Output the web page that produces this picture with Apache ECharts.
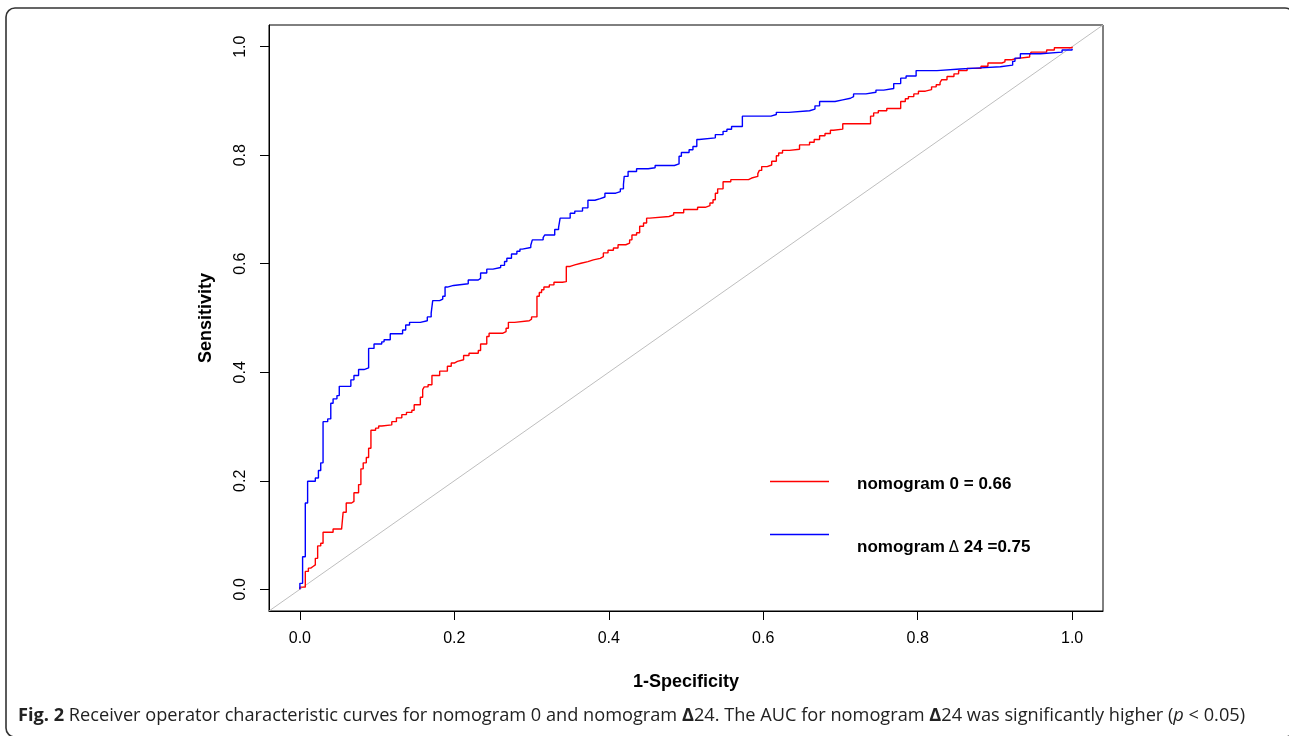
<!DOCTYPE html>
<html>
<head>
<meta charset="utf-8">
<script src="https://cdn.jsdelivr.net/npm/echarts@6/dist/echarts.min.js"></script>
<style>
html,body{margin:0;padding:0;background:#fff;}
#chart{width:1289px;height:736px;}
</style>
</head>
<body>
<div id="chart"></div>
<script>
// Tick values
var xTicks = [0, 0.2, 0.4, 0.6, 0.8, 1.0];
var yTicks = [0, 0.2, 0.4, 0.6, 0.8, 1.0];

// Legend labels
var legendRed = 'nomogram 0 = 0.66';
var legendBlueA = 'nomogram';
var legendBlueDelta = 'Δ';
var legendBlueB = '24 =0.75';

// ROC curve for nomogram 0 (red): [1-specificity, sensitivity] at each jump
var nomogram0 = [
  [0,0],[0,0.004],[0.007,0.033],[0.011,0.039],[0.014,0.042],[0.017,0.045],[0.020,0.057],
  [0.023,0.080],[0.027,0.085],[0.030,0.105],[0.043,0.111],[0.054,0.114],[0.056,0.142],
  [0.060,0.159],[0.067,0.162],[0.070,0.178],[0.076,0.193],[0.079,0.222],[0.082,0.233],
  [0.086,0.243],[0.089,0.260],[0.092,0.293],[0.098,0.297],[0.102,0.301],[0.106,0.303],
  [0.119,0.309],[0.125,0.316],[0.132,0.322],[0.138,0.326],[0.145,0.330],[0.148,0.340],
  [0.156,0.354],[0.159,0.368],[0.161,0.373],[0.166,0.377],[0.171,0.394],[0.181,0.402],
  [0.191,0.411],[0.196,0.417],[0.200,0.420],[0.204,0.423],[0.212,0.431],[0.219,0.435],
  [0.231,0.440],[0.234,0.452],[0.242,0.466],[0.245,0.472],[0.263,0.475],[0.267,0.481],
  [0.270,0.492],[0.278,0.495],[0.297,0.498],[0.300,0.502],[0.307,0.540],[0.310,0.547],
  [0.313,0.552],[0.316,0.557],[0.323,0.561],[0.329,0.566],[0.340,0.567],[0.345,0.595],
  [0.350,0.598],[0.356,0.601],[0.364,0.604],[0.373,0.607],[0.380,0.610],[0.389,0.613],
  [0.393,0.620],[0.399,0.625],[0.406,0.629],[0.412,0.635],[0.422,0.638],[0.427,0.644],
  [0.430,0.653],[0.436,0.657],[0.440,0.669],[0.445,0.675],[0.449,0.684],[0.453,0.687],
  [0.478,0.690],[0.484,0.694],[0.497,0.700],[0.515,0.704],[0.525,0.707],[0.531,0.712],
  [0.535,0.718],[0.538,0.730],[0.541,0.738],[0.548,0.751],[0.558,0.755],[0.581,0.758],
  [0.585,0.761],[0.593,0.766],[0.595,0.772],[0.598,0.779],[0.605,0.782],[0.611,0.789],
  [0.617,0.799],[0.620,0.804],[0.625,0.809],[0.634,0.811],[0.647,0.819],[0.660,0.824],
  [0.666,0.829],[0.673,0.836],[0.680,0.840],[0.687,0.846],[0.691,0.848],[0.703,0.858],
  [0.739,0.872],[0.743,0.878],[0.749,0.882],[0.760,0.886],[0.778,0.899],[0.784,0.904],
  [0.788,0.908],[0.795,0.913],[0.801,0.918],[0.810,0.921],[0.818,0.926],[0.824,0.930],
  [0.829,0.934],[0.831,0.939],[0.838,0.945],[0.847,0.950],[0.853,0.956],[0.864,0.960],
  [0.882,0.964],[0.891,0.970],[0.909,0.972],[0.913,0.976],[0.922,0.978],[0.927,0.981],
  [0.945,0.985],[0.947,0.990],[0.967,0.994],[0.977,0.998],[1.0,1.0]
];

// ROC curve for nomogram Δ24 (blue)
var nomogramD24 = [
  [0,0],[0,0.011],[0.0035,0.060],[0.007,0.159],[0.010,0.199],[0.020,0.205],[0.024,0.219],
  [0.027,0.233],[0.030,0.309],[0.036,0.314],[0.040,0.343],[0.043,0.351],[0.048,0.357],
  [0.051,0.374],[0.066,0.386],[0.070,0.394],[0.076,0.405],[0.083,0.408],[0.089,0.444],
  [0.096,0.452],[0.106,0.456],[0.109,0.460],[0.117,0.471],[0.133,0.478],[0.137,0.487],
  [0.142,0.492],[0.156,0.495],[0.165,0.502],[0.170,0.509],[0.172,0.532],[0.181,0.535],
  [0.185,0.540],[0.188,0.557],[0.191,0.560],[0.199,0.563],[0.218,0.570],[0.231,0.573],
  [0.234,0.583],[0.242,0.590],[0.250,0.593],[0.260,0.597],[0.265,0.604],[0.268,0.610],
  [0.274,0.618],[0.281,0.623],[0.285,0.627],[0.288,0.630],[0.299,0.634],[0.301,0.644],
  [0.315,0.648],[0.317,0.653],[0.330,0.663],[0.335,0.667],[0.337,0.684],[0.350,0.693],
  [0.356,0.697],[0.366,0.703],[0.373,0.717],[0.382,0.720],[0.389,0.723],[0.395,0.730],
  [0.409,0.733],[0.415,0.738],[0.419,0.746],[0.420,0.761],[0.425,0.770],[0.436,0.775],
  [0.451,0.777],[0.460,0.781],[0.485,0.784],[0.491,0.798],[0.494,0.805],[0.504,0.810],
  [0.509,0.816],[0.514,0.829],[0.517,0.832],[0.538,0.838],[0.548,0.844],[0.553,0.848],
  [0.559,0.853],[0.573,0.872],[0.610,0.875],[0.617,0.879],[0.633,0.882],[0.660,0.885],
  [0.667,0.891],[0.673,0.899],[0.693,0.902],[0.703,0.905],[0.713,0.908],[0.717,0.913],
  [0.733,0.916],[0.746,0.920],[0.756,0.923],[0.769,0.932],[0.778,0.942],[0.785,0.946],
  [0.798,0.956],[0.825,0.959],[0.855,0.961],[0.881,0.963],[0.907,0.966],[0.923,0.973],
  [0.926,0.979],[0.933,0.987],[0.959,0.990],[0.987,0.994],[1.0,0.996]
];

// Chance diagonal across the plot extent
var axisMin = -0.04, axisMax = 1.04;
var diagonal = [[axisMin, axisMin], [axisMax, axisMax]];

var caption = '{b|Fig. 2} Receiver operator characteristic curves for nomogram 0 and nomogram {b|Δ}24. The AUC for nomogram {b|Δ}24 was significantly higher ({i|p} < 0.05)';

var chart = echarts.init(document.getElementById('chart'), null, {renderer: 'canvas'});
var tickFont = {fontFamily: 'Liberation Sans', fontSize: 16, color: '#000'};

chart.setOption({
  animation: false,
  backgroundColor: '#fff',
  grid: {left: 269, right: 186, top: 25, bottom: 125, show: true, borderColor: '#000', borderWidth: 1, backgroundColor: 'transparent'},
  xAxis: {
    type: 'value', min: axisMin, max: axisMax, position: 'bottom',
    name: '1-Specificity', nameLocation: 'middle', nameGap: 62,
    nameTextStyle: {fontFamily: 'Liberation Sans', fontSize: 18, fontWeight: 'bold', color: '#000'},
    axisLine: {show: true, onZero: false, lineStyle: {color: '#000', width: 1}},
    axisTick: {show: true, inside: false, length: 9, customValues: xTicks, lineStyle: {color: '#000'}},
    axisLabel: Object.assign({show: true, margin: 20, customValues: xTicks, formatter: function(v){return v.toFixed(1);}}, tickFont),
    splitLine: {show: false}
  },
  yAxis: {
    type: 'value', min: axisMin, max: axisMax, position: 'left',
    name: 'Sensitivity', nameLocation: 'middle', nameGap: 54, nameRotate: 90,
    nameTextStyle: {fontFamily: 'Liberation Sans', fontSize: 18, fontWeight: 'bold', color: '#000'},
    axisLine: {show: true, onZero: false, lineStyle: {color: '#000', width: 1}},
    axisTick: {show: true, inside: false, length: 9, customValues: yTicks, lineStyle: {color: '#000'}},
    axisLabel: Object.assign({show: true, margin: 20, rotate: 90, customValues: yTicks, formatter: function(v){return v.toFixed(1);}}, tickFont),
    splitLine: {show: false}
  },
  series: [
    {type: 'line', data: diagonal, symbol: 'none', silent: true, lineStyle: {color: '#bebebe', width: 1}, z: 1},
    {type: 'line', name: legendRed, data: nomogram0, step: 'end', symbol: 'none', lineStyle: {color: '#ff0000', width: 1.4}, z: 2},
    {type: 'line', name: 'nomogram Δ24', data: nomogramD24, step: 'end', symbol: 'none', lineStyle: {color: '#0000ff', width: 1.4}, z: 3}
  ],
  graphic: [
    {type: 'rect', shape: {x: 6, y: 8, width: 1288, height: 729, r: 9}, style: {fill: 'none', stroke: '#333', lineWidth: 1.6}, silent: true},
    {type: 'line', shape: {x1: 770, y1: 481.5, x2: 829, y2: 481.5}, style: {stroke: '#ff0000', lineWidth: 1.6}},
    {type: 'line', shape: {x1: 770, y1: 534.5, x2: 829, y2: 534.5}, style: {stroke: '#0000ff', lineWidth: 1.6}},
    {type: 'text', x: 857, y: 484, style: {text: legendRed, fontFamily: 'Liberation Sans', fontSize: 17, fontWeight: 'bold', fill: '#000', verticalAlign: 'middle'}},
    {type: 'text', x: 857, y: 546, style: {
      text: '{n|' + legendBlueA + '}{d|' + legendBlueDelta + '}{n| ' + legendBlueB + '}',
      verticalAlign: 'middle',
      rich: {
        n: {fontFamily: 'Liberation Sans', fontSize: 17, fontWeight: 'bold', fill: '#000', verticalAlign: 'bottom', lineHeight: 20},
        d: {fontFamily: 'DejaVu Sans', fontSize: 15, fontWeight: 'normal', fill: '#000', padding: [0, 0, 0, 4], verticalAlign: 'bottom', lineHeight: 20}
      }
    }},
    {type: 'text', x: 18, y: 716, style: {
      text: caption, verticalAlign: 'middle', fontFamily: 'Open Sans', fontSize: 18.2, fill: '#222',
      rich: {
        b: {fontFamily: 'Open Sans', fontSize: 18.2, fontWeight: 'bold', fill: '#222'},
        i: {fontFamily: 'Open Sans', fontSize: 18.2, fontStyle: 'italic', fill: '#222'}
      }
    }}
  ]
});
</script>
</body>
</html>
